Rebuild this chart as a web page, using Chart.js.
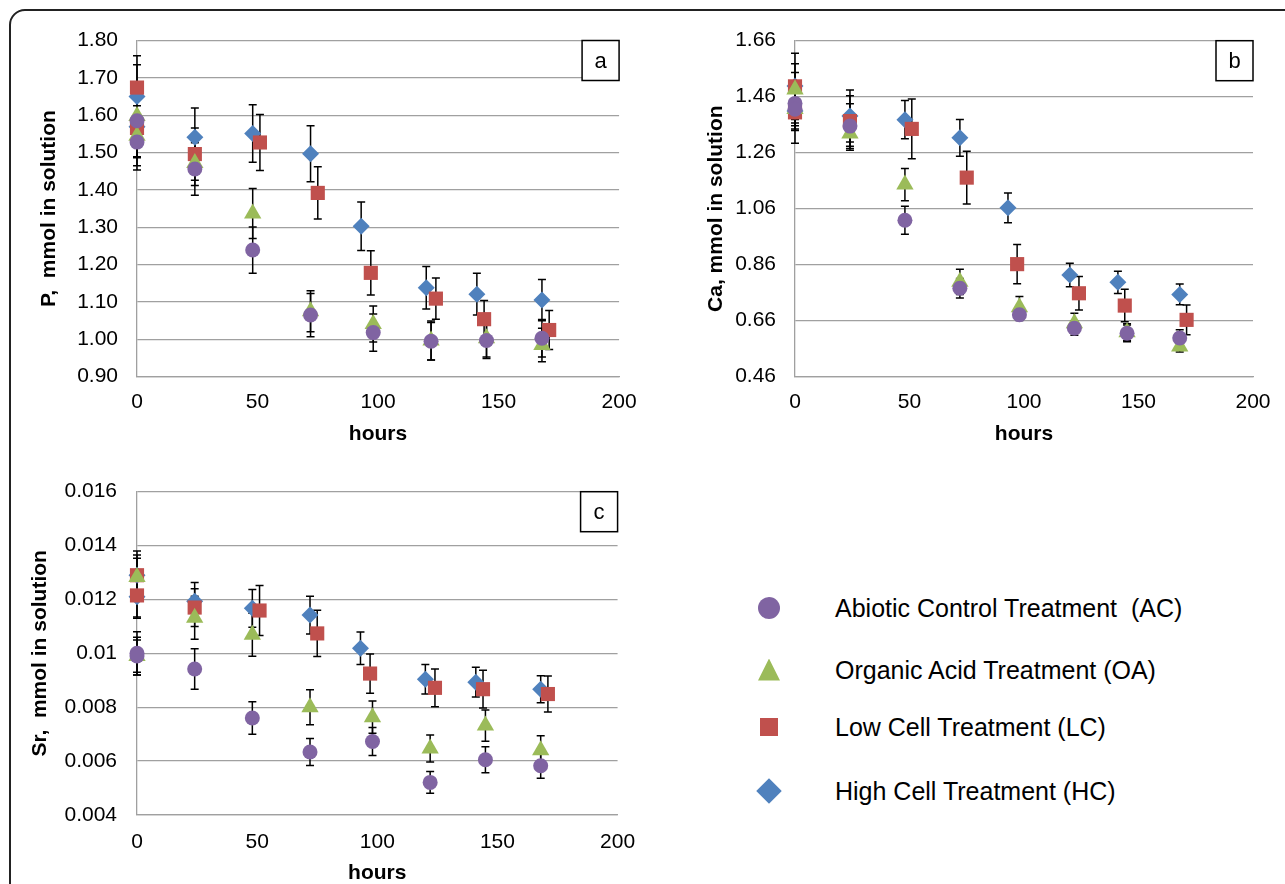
<!DOCTYPE html>
<html>
<head>
<meta charset="utf-8">
<script src="https://cdn.jsdelivr.net/npm/chart.js@4/dist/chart.umd.min.js"></script>
<style>
  html, body { margin: 0; padding: 0; background: #fff; overflow: hidden; }
  body { width: 1285px; height: 884px; position: relative; font-family: "Liberation Sans", Arial, sans-serif; }
  #frame { position: absolute; left: 9px; top: 9px; width: 1400px; height: 1000px;
           border: 2px solid #222; border-radius: 16px; box-sizing: border-box; }
  canvas { position: absolute; }
  #chartA { left: 0; top: 0; }
  #chartB { left: 650px; top: 0; }
  #chartC { left: 0; top: 455px; }
  .mk { position: absolute; transform: translate(-50%, -50%); }
  .lbl { position: absolute; font-size: 25px; line-height: 1; color: #000;
         white-space: pre; transform: translateY(-50%); }
</style>
</head>
<body>
<div id="frame"></div>
<canvas id="chartA" width="650" height="460"></canvas>
<canvas id="chartB" width="635" height="460"></canvas>
<canvas id="chartC" width="650" height="440"></canvas>
<div id="legend"></div>
<script>
// series names and colours
var seriesNames = ['Abiotic Control Treatment  (AC)', 'Organic Acid Treatment (OA)',
                   'Low Cell Treatment (LC)', 'High Cell Treatment (HC)'];
var seriesColors = ['#8064A2', '#9BBB59', '#C0504D', '#4F81BD'];

// sampling times (hours); two replicate starts at t = 0
var hoursAC = [0, 0, 24, 48, 72, 98, 122, 145, 168];
var hoursOA = [0, 0, 24, 48, 72, 98, 122, 145, 168];
var hoursLC = [0, 0, 24, 51, 75, 97, 124, 144, 171];
var hoursHC = [0, 0, 24, 48, 72, 93, 120, 141, 168];

// a) P, mmol in solution
var pAC = [1.585, 1.528, 1.456, 1.239, 1.065, 1.018, 0.995, 0.997, 1.003];
var pACerr = [0.07, 0.075, 0.07, 0.062, 0.058, 0.05, 0.05, 0.048, 0.05];
var pOA = [1.598, 1.545, 1.472, 1.337, 1.075, 1.041, 0.997, 1.003, 0.985];
var pOAerr = [0.06, 0.08, 0.06, 0.067, 0.055, 0.048, 0.052, 0.05, 0.045];
var pLC = [1.674, 1.566, 1.496, 1.527, 1.392, 1.178, 1.109, 1.054, 1.025];
var pLCerr = [0.085, 0.08, 0.07, 0.075, 0.07, 0.059, 0.055, 0.05, 0.052];
var pHC = [1.650, 1.569, 1.541, 1.551, 1.497, 1.303, 1.138, 1.121, 1.105];
var pHCerr = [0.085, 0.08, 0.078, 0.077, 0.075, 0.065, 0.057, 0.056, 0.055];

// b) Ca, mmol in solution
var caAC = [1.436, 1.415, 1.355, 1.019, 0.776, 0.681, 0.633, 0.615, 0.598];
var caACerr = [0.07, 0.07, 0.08, 0.05, 0.035, 0.02, 0.025, 0.03, 0.03];
var caOA = [1.486, 1.416, 1.329, 1.146, 0.799, 0.708, 0.651, 0.619, 0.568];
var caOAerr = [0.06, 0.06, 0.06, 0.058, 0.045, 0.038, 0.036, 0.03, 0.02];
var caLC = [1.497, 1.404, 1.373, 1.345, 1.171, 0.862, 0.758, 0.714, 0.663];
var caLCerr = [0.118, 0.11, 0.09, 0.107, 0.094, 0.07, 0.06, 0.058, 0.053];
var caHC = [1.498, 1.409, 1.391, 1.378, 1.313, 1.063, 0.823, 0.797, 0.754];
var caHCerr = [0.08, 0.07, 0.093, 0.068, 0.066, 0.053, 0.042, 0.04, 0.037];

// c) Sr, mmol in solution
var srAC = [0.0100, 0.0099, 0.00942, 0.0076, 0.00634, 0.00673, 0.00521, 0.00605, 0.00583];
var srACerr = [0.0008, 0.0007, 0.00075, 0.0006, 0.0005, 0.00052, 0.0004, 0.00048, 0.00047];
var srOA = [0.01283, 0.0099, 0.01132, 0.01069, 0.0080, 0.00763, 0.00647, 0.00732, 0.0064];
var srOAerr = [0.0007, 0.0006, 0.0008, 0.0008, 0.00065, 0.0006, 0.0005, 0.00058, 0.00054];
var srLC = [0.0129, 0.01215, 0.0117, 0.01159, 0.01074, 0.00925, 0.00872, 0.00867, 0.00849];
var srLCerr = [0.0009, 0.0008, 0.0007, 0.00093, 0.00086, 0.00073, 0.0007, 0.0007, 0.00067];
var srHC = [0.0129, 0.0121, 0.01193, 0.01167, 0.01142, 0.01019, 0.00904, 0.00893, 0.00867];
var srHCerr = [0.00075, 0.0008, 0.0007, 0.0007, 0.0007, 0.0006, 0.00055, 0.00055, 0.0005];

// tick labels
var hourTicks = [0, 50, 100, 150, 200];
var pTicks = [0.90, 1.00, 1.10, 1.20, 1.30, 1.40, 1.50, 1.60, 1.70, 1.80];
var pTickLabels = ['0.90', '1.00', '1.10', '1.20', '1.30', '1.40', '1.50', '1.60', '1.70', '1.80'];
var caTicks = [0.46, 0.66, 0.86, 1.06, 1.26, 1.46, 1.66];
var caTickLabels = ['0.46', '0.66', '0.86', '1.06', '1.26', '1.46', '1.66'];
var srTicks = [0.004, 0.006, 0.008, 0.010, 0.012, 0.014, 0.016];
var srTickLabels = ['0.004', '0.006', '0.008', '0.01', '0.012', '0.014', '0.016'];

Chart.defaults.font.family = '"Liberation Sans", Arial, sans-serif';
Chart.defaults.color = '#000';

var gridColor = '#A0A0A0';
var pointStyles = ['circle', 'triangle', 'rect', 'rectRot'];
var pointSizes = [7.5, 10, 10, 8.5];

// black error bars with small caps, drawn under the markers
var errorBars = {
    id: 'errorBars',
    beforeDatasetsDraw: function (chart) {
        var ctx = chart.ctx, x = chart.scales.x, y = chart.scales.y;
        ctx.save();
        ctx.strokeStyle = '#000';
        ctx.lineWidth = 1.5;
        chart.data.datasets.forEach(function (ds, di) {
            if (!chart.isDatasetVisible(di)) return;
            ds.data.forEach(function (pt, i) {
                var e = ds.errors[i];
                var px = x.getPixelForValue(pt.x);
                var top = y.getPixelForValue(pt.y + e);
                var bot = y.getPixelForValue(pt.y - e);
                ctx.beginPath();
                ctx.moveTo(px, top); ctx.lineTo(px, bot);
                ctx.moveTo(px - 4, top); ctx.lineTo(px + 4, top);
                ctx.moveTo(px - 4, bot); ctx.lineTo(px + 4, bot);
                ctx.stroke();
            });
        });
        ctx.restore();
    }
};

// boxed panel letter in the top right corner of the plot
var panelBox = {
    id: 'panelBox',
    afterDraw: function (chart, args, opts) {
        var ctx = chart.ctx, area = chart.chartArea;
        var w = 37, h = 40;
        ctx.save();
        ctx.fillStyle = '#fff';
        ctx.fillRect(area.right - w, area.top, w, h);
        ctx.strokeStyle = '#000';
        ctx.lineWidth = 1.5;
        ctx.strokeRect(area.right - w, area.top, w, h);
        ctx.fillStyle = '#000';
        ctx.font = '22px "Liberation Sans", Arial, sans-serif';
        ctx.textAlign = 'center';
        ctx.textBaseline = 'middle';
        ctx.fillText(opts.text, area.right - w / 2, area.top + h / 2 + 1);
        ctx.restore();
    }
};

function makeSet(k, xs, ys, errs) {
    return {
        label: seriesNames[k],
        data: xs.map(function (x, i) { return { x: x, y: ys[i] }; }),
        errors: errs,
        showLine: false,
        clip: false,
        pointStyle: pointStyles[k],
        pointRadius: pointSizes[k],
        pointHoverRadius: pointSizes[k],
        pointBackgroundColor: seriesColors[k],
        pointBorderColor: seriesColors[k],
        pointBorderWidth: 0
    };
}

function makeChart(id, p) {
    return new Chart(document.getElementById(id), {
        type: 'scatter',
        data: { datasets: p.sets },
        options: {
            responsive: false,
            animation: false,
            devicePixelRatio: 1,
            layout: { padding: p.pad },
            plugins: {
                legend: { display: false },
                tooltip: { enabled: false },
                panelBox: { text: p.letter }
            },
            scales: {
                x: {
                    type: 'linear', min: 0, max: 200,
                    afterBuildTicks: function (s) { s.ticks = hourTicks.map(function (v) { return { value: v }; }); },
                    afterFit: function (s) { s.height = p.xH; },
                    grid: { display: false, drawTicks: false },
                    border: { display: true, color: gridColor, width: 1.3 },
                    ticks: { font: { size: 21 }, padding: p.xPad, maxRotation: 0 },
                    title: { display: true, text: 'hours', font: { size: 21, weight: 'bold' }, padding: { top: 0, bottom: 0 } }
                },
                y: {
                    type: 'linear', min: p.yTicks[0], max: p.yTicks[p.yTicks.length - 1],
                    afterBuildTicks: function (s) { s.ticks = p.yTicks.map(function (v) { return { value: v }; }); },
                    afterFit: function (s) { s.width = p.yW; },
                    grid: { color: gridColor, lineWidth: 1.3, drawTicks: false },
                    border: { display: true, color: gridColor, width: 1.3 },
                    ticks: {
                        font: { size: 21 }, padding: p.yPad,
                        callback: function (v, i) { return p.yLabels[i]; }
                    },
                    title: { display: true, text: p.yTitle, font: { size: 21, weight: 'bold' }, padding: { top: p.yTitlePad, bottom: 0 } }
                }
            }
        },
        plugins: [errorBars, panelBox]
    });
}

makeChart('chartA', {
    sets: [makeSet(0, hoursAC, pAC, pACerr), makeSet(1, hoursOA, pOA, pOAerr),
           makeSet(2, hoursLC, pLC, pLCerr), makeSet(3, hoursHC, pHC, pHCerr)],
    yTicks: pTicks, yLabels: pTickLabels, yTitle: 'P,  mmol in solution', letter: 'a',
    pad: { left: 0, top: 40.5, right: 28, bottom: 13.4 },
    yW: 137, xH: 69.9, xPad: 13.4, yPad: 19, yTitlePad: 36.7
});

makeChart('chartB', {
    sets: [makeSet(0, hoursAC, caAC, caACerr), makeSet(1, hoursOA, caOA, caOAerr),
           makeSet(2, hoursLC, caLC, caLCerr), makeSet(3, hoursHC, caHC, caHCerr)],
    yTicks: caTicks, yLabels: caTickLabels, yTitle: 'Ca, mmol in solution', letter: 'b',
    pad: { left: 0, top: 40.7, right: 32, bottom: 13.4 },
    yW: 145, xH: 69.9, xPad: 13.4, yPad: 19, yTitlePad: 53.4
});

makeChart('chartC', {
    sets: [makeSet(0, hoursAC, srAC, srACerr), makeSet(1, hoursOA, srOA, srOAerr),
           makeSet(2, hoursLC, srLC, srLCerr), makeSet(3, hoursHC, srHC, srHCerr)],
    yTicks: srTicks, yLabels: srTickLabels, yTitle: 'Sr,  mmol in solution', letter: 'c',
    pad: { left: 0, top: 36.7, right: 28, bottom: 9.4 },
    yW: 137, xH: 70.6, xPad: 14.9, yPad: 20, yTitlePad: 28
});

// Legend
var legendRows = [608, 669.5, 727, 790.5];
var legendShapes = [
    'width:22px;height:22px;border-radius:50%;',
    'width:22px;height:22px;clip-path:polygon(50% 0,100% 100%,0 100%);',
    'width:18px;height:18px;',
    'width:18px;height:18px;transform:translate(-50%,-50%) rotate(45deg);'
];
var legend = document.getElementById('legend');
seriesNames.forEach(function (name, k) {
    var mk = document.createElement('div');
    mk.className = 'mk';
    mk.style.cssText = 'left:769px;top:' + legendRows[k] + 'px;background:' + seriesColors[k] + ';' + legendShapes[k];
    legend.appendChild(mk);
    var lbl = document.createElement('div');
    lbl.className = 'lbl';
    lbl.style.left = '835px';
    lbl.style.top = legendRows[k] + 'px';
    lbl.textContent = name;
    legend.appendChild(lbl);
});
</script>
</body>
</html>
